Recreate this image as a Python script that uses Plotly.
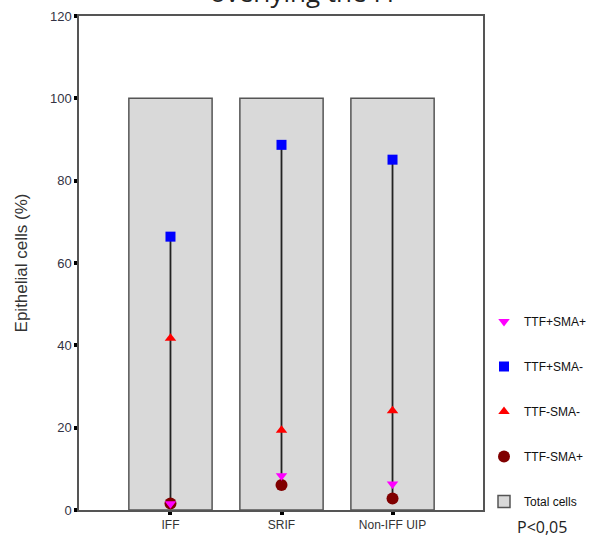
import plotly.graph_objects as go

categories = ["IFF", "SRIF", "Non-IFF UIP"]
total_cells = [100, 100, 100]
ttf_pos_sma_pos = [1.5, 8.3, 6.3]     # TTF+SMA+
ttf_pos_sma_neg = [66.4, 88.7, 85.1]  # TTF+SMA-
ttf_neg_sma_neg = [41.7, 19.4, 24.1]  # TTF-SMA-
ttf_neg_sma_pos = [1.6, 6.1, 2.8]     # TTF-SMA+
y_ticks = [0, 20, 40, 60, 80, 100, 120]

xs = [0, 1, 2]
FONT = "Liberation Sans Narrow, Liberation Sans, Arial, sans-serif"

W, H = 603, 542
# plot area in window pixels
PL, PR, PT, PB = 79, 483, 16, 510
def px_x(p):
    return (p - PL) / (PR - PL)
def px_y(p):
    return (PB - p) / (PB - PT)

fig = go.Figure()
fig.add_trace(go.Bar(
    x=xs, y=total_cells, width=0.75, name="Total cells",
    marker=dict(color="#d9d9d9", line=dict(color="#555555", width=1.5)),
    legendgroup="g5", legendrank=5,
))

# vertical range lines
for i, x in enumerate(xs):
    vals = [ttf_pos_sma_pos[i], ttf_pos_sma_neg[i], ttf_neg_sma_neg[i], ttf_neg_sma_pos[i]]
    fig.add_trace(go.Scatter(
        x=[x, x], y=[min(vals), max(vals)], mode="lines",
        line=dict(color="#222222", width=1.8), showlegend=False, hoverinfo="skip",
    ))

fig.add_trace(go.Scatter(
    x=xs, y=ttf_neg_sma_pos, mode="markers", name="TTF-SMA+",
    marker=dict(symbol="circle", size=12, color="#800000"),
    legendgroup="g4", legendrank=4,
))
fig.add_trace(go.Scatter(
    x=xs, y=ttf_neg_sma_neg, mode="markers", name="TTF-SMA-",
    marker=dict(symbol="triangle-up", size=10, color="#ff0000"),
    legendgroup="g3", legendrank=3,
))
fig.add_trace(go.Scatter(
    x=xs, y=ttf_pos_sma_neg, mode="markers", name="TTF+SMA-",
    marker=dict(symbol="square", size=10, color="#0000ff"),
    legendgroup="g2", legendrank=2,
))
fig.add_trace(go.Scatter(
    x=xs, y=ttf_pos_sma_pos, mode="markers", name="TTF+SMA+",
    marker=dict(symbol="triangle-down", size=10, color="#ff00ff"),
    legendgroup="g1", legendrank=1,
))

fig.update_layout(
    width=W, height=H,
    margin=dict(l=PL, r=W - PR, t=PT, b=H - PB, autoexpand=False),
    plot_bgcolor="white", paper_bgcolor="white",
    showlegend=True,
    legend=dict(
        x=px_x(484), xanchor="left", y=px_y(307), yanchor="top",
        font=dict(family=FONT, size=12, color="#111111"),
        tracegroupgap=26, bgcolor="rgba(0,0,0,0)",
    ),
    xaxis=dict(
        range=[-0.824, 2.815], tickmode="array", tickvals=xs, ticktext=categories,
        showline=True, linecolor="#555555", linewidth=1.5, mirror=True,
        ticks="outside", ticklen=3, tickwidth=4, tickcolor="black",
        showgrid=False, zeroline=False, automargin=False,
        tickfont=dict(family=FONT, size=12, color="#333333"),
    ),
    yaxis=dict(
        range=[0, 120], tickmode="array", tickvals=y_ticks,
        showline=True, linecolor="#555555", linewidth=1.5, mirror=True,
        ticks="outside", ticklen=3, tickwidth=4, tickcolor="black",
        showgrid=False, zeroline=False, automargin=False,
        tickfont=dict(family=FONT, size=13, color="#333344"),
        title=dict(text="Epithelial cells (%)", standoff=18,
                   font=dict(family="Liberation Sans, Arial, sans-serif", size=17, color="#333333")),
    ),
    annotations=[
        dict(text="overlying the FF", x=px_x(305), xref="paper", y=px_y(12), yref="paper",
             yanchor="bottom", xanchor="center", showarrow=False,
             font=dict(family="Open Sans, sans-serif", size=26, color="#222222")),
        dict(text="P<0,05", x=px_x(542), xref="paper", y=px_y(527), yref="paper",
             yanchor="middle", xanchor="center", showarrow=False,
             font=dict(family="Open Sans, sans-serif", size=16, color="#222222")),
    ],
)

fig.write_html("out.html", config={"displayModeBar": False},
               post_script="document.body.style.margin='0px';")
